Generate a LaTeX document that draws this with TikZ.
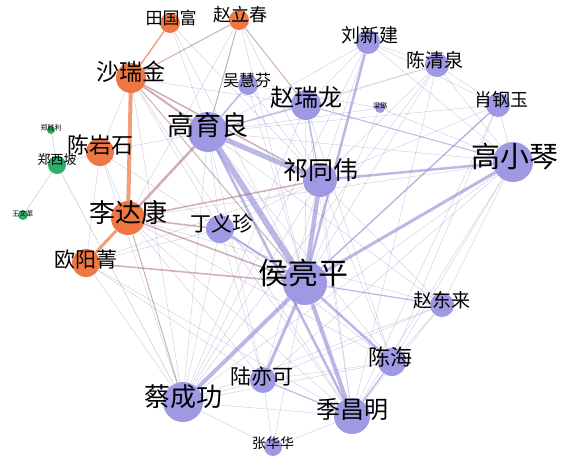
\documentclass[tikz,border=0pt]{standalone}
\usepackage{fontspec}
\setmainfont{Noto Sans CJK SC}
\usetikzlibrary{backgrounds}
\definecolor{lav}{HTML}{9F99E4}
\definecolor{orng}{HTML}{EF7743}
\definecolor{grn}{HTML}{2EAE69}
\definecolor{lavedge}{HTML}{8E88D6}
\definecolor{orngedge}{HTML}{EE7D4E}
\definecolor{mauve}{HTML}{A86A80}

\begin{document}
\begin{tikzpicture}[x=1pt,y=-1pt,
  pp/.style={circle,fill=#1,inner sep=0pt},
  nm/.style={inner sep=0pt,font=\fontsize{#1}{#1}\selectfont},
  ep/.style={draw=lavedge,line width=#1pt,opacity=.6},
  eo/.style={draw=orngedge,line width=#1pt,opacity=.75},
  em/.style={draw=mauve,line width=#1pt,opacity=.55},
  eg/.style={draw=grn!50!gray,line width=.4pt,opacity=.5},
  ethin/.style={draw=lavedge!70!gray,line width=.45pt,opacity=.4}]
\useasboundingbox (0,0) rectangle (572,464);
% people
\node[pp=lav,minimum size=44pt] (hlp) at (305,283) {};
\node[pp=lav,minimum size=40pt] (gxq) at (513,162) {};
\node[pp=lav,minimum size=40pt] (gyl) at (208,132) {};
\node[pp=lav,minimum size=40pt] (ccg) at (183,402) {};
\node[pp=lav,minimum size=36pt] (jcm) at (352,416) {};
\node[pp=lav,minimum size=34pt] (qtw) at (320,180) {};
\node[pp=orng,minimum size=34pt] (ldk) at (128,218) {};
\node[pp=lav,minimum size=30pt] (zrl) at (306,105) {};
\node[pp=orng,minimum size=30pt] (srj) at (131,78) {};
\node[pp=orng,minimum size=28pt] (cys) at (100,152) {};
\node[pp=lav,minimum size=28pt] (dyz) at (220,229) {};
\node[pp=orng,minimum size=28pt] (oyj) at (86,263) {};
\node[pp=lav,minimum size=28pt] (ch) at (392,362) {};
\node[pp=lav,minimum size=26pt] (lyk) at (263,380) {};
\node[pp=lav,minimum size=24pt] (lxj) at (368,42) {};
\node[pp=lav,minimum size=24pt] (cqq) at (437,65) {};
\node[pp=lav,minimum size=24pt] (xgy) at (498,105) {};
\node[pp=lav,minimum size=24pt] (zdl) at (442,305) {};
\node[pp=orng,minimum size=20pt] (tgf) at (170,23) {};
\node[pp=orng,minimum size=20pt] (zlc) at (239,20) {};
\node[pp=lav,minimum size=20pt] (whf) at (248,85) {};
\node[pp=grn,minimum size=18pt] (zxp) at (57,165) {};
\node[pp=lav,minimum size=18pt] (zhh) at (273,447) {};
\node[pp=lav,minimum size=10pt] (ll) at (380,108) {};
\node[pp=grn,minimum size=8pt] (zsl) at (51,130) {};
\node[pp=grn,minimum size=10pt] (wwg) at (23,215) {};
% names
\node[nm=30] (hlpT) at (303,273) {侯亮平};
\node[nm=29] (gxqT) at (515,157) {高小琴};
\node[nm=27] (gylT) at (208,125) {高育良};
\node[nm=26] (ldkT) at (128,212) {李达康};
\node[nm=25] (qtwT) at (321,170) {祁同伟};
\node[nm=26] (ccgT) at (183,397) {蔡成功};
\node[nm=24] (jcmT) at (352,410) {季昌明};
\node[nm=24] (zrlT) at (306,97) {赵瑞龙};
\node[nm=23] (srjT) at (131,72) {沙瑞金};
\node[nm=22] (cysT) at (100,145) {陈岩石};
\node[nm=21] (dyzT) at (222,223) {丁义珍};
\node[nm=21] (oyjT) at (86,260) {欧阳菁};
\node[nm=22] (chT) at (390,357) {陈海};
\node[nm=21] (lykT) at (262,376) {陆亦可};
\node[nm=19] (lxjT) at (370,35) {刘新建};
\node[nm=19] (cqqT) at (435,60) {陈清泉};
\node[nm=18] (xgyT) at (501,100) {肖钢玉};
\node[nm=19] (zdlT) at (442,300) {赵东来};
\node[nm=17] (tgfT) at (171,18) {田国富};
\node[nm=18] (zlcT) at (240,15) {赵立春};
\node[nm=16] (whfT) at (247,80) {吴慧芬};
\node[nm=13] (zxpT) at (57,160) {郑西坡};
\node[nm=14] (zhhT) at (273,443) {张华华};
\node[nm=7] (llT) at (380,106) {梁璐};
\node[nm=7] (zslT) at (51,128) {郑胜利};
\node[nm=7] (wwgT) at (23,214) {王文革};
% ties
\begin{scope}[on background layer]
\foreach \a/\b in {tgf/gyl,tgf/hlp,tgf/qtw,zlc/hlp,zlc/qtw,zlc/ldk,srj/cys,srj/dyz,srj/ccg,srj/jcm,srj/zrl,
  cys/ldk,cys/hlp,cys/oyj,cys/gyl,cys/ccg,ldk/lyk,ldk/jcm,ldk/zdl,ldk/gxq,ldk/ch,oyj/ccg,oyj/dyz,oyj/jcm,
  oyj/lyk,oyj/qtw,dyz/ccg,dyz/qtw,dyz/gyl,dyz/lyk,dyz/jcm,dyz/ch,gyl/ccg,gyl/lyk,gyl/ch,gyl/gxq,gyl/lxj,
  gyl/cqq,gyl/xgy,gyl/zdl,gyl/ll,whf/qtw,whf/hlp,whf/ll,zrl/hlp,zrl/lxj,zrl/cqq,zrl/ccg,zrl/ch,zrl/jcm,
  qtw/lxj,qtw/cqq,qtw/xgy,qtw/ccg,qtw/jcm,qtw/ch,qtw/zdl,qtw/lyk,lxj/cqq,lxj/gxq,lxj/xgy,lxj/ccg,cqq/xgy,
  cqq/gxq,cqq/hlp,cqq/ccg,cqq/jcm,xgy/gxq,xgy/jcm,xgy/ch,gxq/zdl,gxq/ch,gxq/jcm,gxq/ccg,gxq/lyk,hlp/zhh,
  ccg/lyk,ccg/jcm,ccg/zhh,ccg/ch,ccg/zdl,lyk/ch,lyk/zhh,lyk/zdl,jcm/zdl,ch/zdl,jcm/zhh,ll/hlp,ll/gxq}
  \draw[ethin] (\a)--(\b);
\foreach \a/\b/\w in {gyl/hlp/6,gyl/qtw/5,qtw/hlp/4.5,hlp/ccg/4,hlp/jcm/4,gyl/jcm/2.5,lxj/hlp/2.5,
  hlp/lyk/3,hlp/ch/2.5,hlp/gxq/3,qtw/gxq/2.5,dyz/hlp/2,xgy/hlp/1.5,whf/gyl/1.5,qtw/zrl/1.2,gyl/zrl/1.2,
  gxq/zrl/1,lyk/jcm/1.2,ch/jcm/1.2,hlp/zdl/1.2}
  \draw[ep=\w] (\a)--(\b);
\foreach \a/\b/\w in {srj/ldk/4,ldk/oyj/3,srj/tgf/1.4}
  \draw[eo=\w] (\a)--(\b);
\foreach \a/\b/\w in {ldk/gyl/2.5,srj/gyl/2,srj/qtw/1.5,ldk/qtw/1.5,ldk/hlp/1.5,ldk/dyz/1.5,oyj/hlp/1.5,
  srj/hlp/1,ldk/ccg/1,zlc/gyl/1,zlc/zrl/1,srj/zlc/1}
  \draw[em=\w] (\a)--(\b);
\foreach \a/\b in {zxp/cys,zxp/zsl,zxp/wwg,zxp/ccg}
  \draw[eg] (\a)--(\b);
\end{scope}
\end{tikzpicture}
\end{document}
